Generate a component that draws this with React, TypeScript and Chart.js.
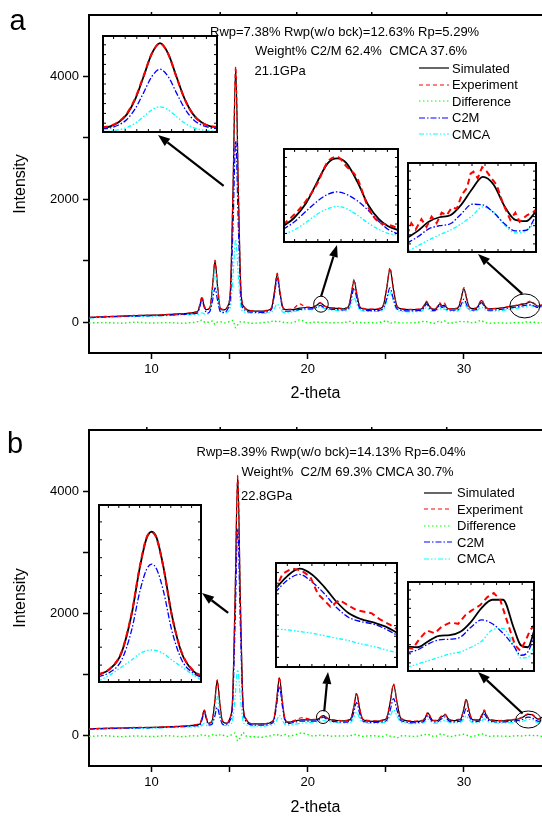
import React, { useEffect, useRef } from "react";
import { Chart, registerables } from "chart.js";
Chart.register(...registerables);

const FONT = "'Liberation Sans', Arial, Helvetica, sans-serif";
const BLACK = "#000000";
const RED = "#ff0000";
const GREEN = "#00ff00";
const BLUE = "#0000ff";
const CYAN = "#00ffff";

const LABELS = ["Simulated", "Experiment", "Difference", "C2M", "CMCA"];
const X_TICKS = [10, 15, 20, 25, 30];
const Y_TICKS = [0, 1000, 2000, 3000, 4000];

// ---------------- Panel a (21.1 GPa) ----------------
const X_A = [
  6, 7, 8, 9, 10, 11, 12, 12.5, 12.84, 12.97,
  13.1, 13.23, 13.36, 13.49, 13.6, 13.75, 13.91, 14.07, 14.23, 14.39,
  14.55, 14.7, 14.88, 15.05, 15.22, 15.39, 15.56, 15.73, 15.9, 16.4,
  17.0, 17.3, 17.51, 17.69, 17.87, 18.05, 18.23, 18.41, 18.59, 19.0,
  19.5, 19.9, 20.14, 20.36, 20.58, 20.8, 21.02, 21.24, 21.46, 22.0,
  22.3, 22.43, 22.61, 22.79, 22.97, 23.15, 23.33, 23.51, 24.0, 24.5,
  24.61, 24.83, 25.05, 25.27, 25.49, 25.71, 25.93, 26.5, 27.0, 27.16,
  27.31, 27.46, 27.61, 27.76, 27.91, 28.06, 28.2, 28.33, 28.46, 28.59,
  28.75, 28.9, 29.05, 29.46, 29.64, 29.82, 30.0, 30.18, 30.36, 30.58,
  30.79, 30.96, 31.13, 31.3, 31.47, 31.64, 32.2, 32.8, 33.3, 33.7,
  34.0, 34.25, 34.5, 34.75, 35.0,
];
const SIM_A = [
  80, 90, 100, 108, 115, 125, 140, 150, 165, 180,
  280, 400, 280, 205, 210, 237, 584, 1000, 584, 237,
  200, 205, 259, 510, 2165, 4150, 2165, 510, 259, 185,
  180, 183, 200, 237, 484, 780, 484, 240, 205, 205,
  230, 240, 240, 245, 277, 316, 277, 244, 234, 225,
  220, 226, 255, 448, 680, 448, 254, 224, 210, 210,
  223, 264, 535, 860, 535, 264, 223, 205, 208, 212,
  220, 270, 330, 270, 222, 214, 218, 258, 300, 262,
  280, 238, 218, 219, 240, 378, 544, 378, 240, 222,
  227, 285, 354, 285, 227, 218, 225, 250, 270, 290,
  305, 330, 300, 262, 280,
];
const EXP_A = [
  78, 95, 98, 112, 113, 128, 138, 155, 170, 190,
  295, 420, 290, 210, 218, 250, 600, 1010, 595, 250,
  210, 212, 265, 525, 2190, 4160, 2140, 500, 265, 190,
  178, 190, 210, 245, 500, 800, 495, 250, 212, 215,
  300, 245, 248, 250, 282, 322, 272, 250, 240, 230,
  228, 232, 262, 460, 700, 460, 262, 230, 215, 218,
  230, 275, 550, 890, 550, 270, 230, 210, 215, 218,
  228, 282, 345, 278, 230, 220, 225, 270, 320, 272,
  310, 245, 222, 225, 250, 392, 565, 392, 245, 228,
  235, 298, 370, 292, 232, 222, 228, 255, 275, 300,
  315, 345, 310, 268, 285,
];
const DIF_A = [
  -10, -5, -15, 0, -12, -5, -15, -5, 0, 10,
  15, 40, 10, -5, 0, 10, 20, -35, 5, 10,
  -5, -10, 0, 20, 30, -90, -25, 10, 5, -15,
  -10, 0, 5, 15, 25, 5, 15, 0, -5, -10,
  40, -5, -10, 0, 5, -5, -5, 0, -10, -5,
  -10, 0, 10, 15, -20, 5, 0, -10, -5, -10,
  0, 10, 25, -20, 5, 0, -10, -10, -5, 5,
  10, 15, 10, -10, -5, -20, 0, 10, 20, 0,
  25, -10, -15, 0, 5, 15, 10, 15, -10, -5,
  5, 20, 30, -5, -10, -15, -10, -15, -5, -10,
  5, 0, 0, -10, -5,
];
const C2M_A = [
  75, 85, 94, 100, 106, 115, 128, 135, 145, 159,
  255, 370, 255, 165, 150, 182, 354, 560, 354, 182,
  160, 160, 216, 392, 1555, 2950, 1555, 392, 216, 165,
  160, 163, 179, 214, 444, 720, 444, 214, 179, 185,
  210, 220, 219, 223, 246, 274, 246, 223, 215, 205,
  200, 204, 227, 378, 560, 378, 227, 204, 190, 190,
  197, 221, 375, 560, 375, 221, 197, 185, 188, 192,
  199, 245, 300, 245, 199, 193, 197, 235, 280, 240,
  255, 215, 196, 196, 207, 284, 376, 284, 207, 198,
  205, 258, 320, 258, 205, 198, 205, 228, 245, 262,
  280, 285, 265, 240, 262,
];
const CMCA_A = [
  70, 80, 88, 95, 100, 108, 120, 125, 126, 128,
  140, 155, 140, 128, 135, 191, 482, 830, 482, 191,
  150, 145, 169, 245, 748, 1350, 748, 245, 169, 150,
  145, 148, 156, 165, 227, 300, 227, 165, 156, 170,
  195, 205, 204, 207, 230, 256, 230, 207, 200, 190,
  185, 186, 200, 291, 400, 291, 200, 186, 175, 175,
  181, 201, 333, 490, 333, 201, 181, 170, 173, 176,
  180, 208, 240, 208, 180, 177, 180, 205, 230, 210,
  215, 192, 180, 180, 189, 247, 316, 247, 189, 182,
  186, 215, 250, 215, 186, 182, 185, 205, 225, 240,
  255, 275, 255, 235, 255,
];

// Inset a1: main peak near 15.4
const X_A1 = [15.04, 15.09, 15.14, 15.19, 15.24, 15.29, 15.34, 15.39, 15.44, 15.49, 15.54, 15.59, 15.64, 15.69, 15.74];
const SIM_A1 = [235, 310, 496, 862, 1557, 2586, 3656, 4150, 3656, 2586, 1557, 862, 496, 320, 270];
const EXP_A1 = [250, 330, 520, 900, 1600, 2620, 3660, 4140, 3640, 2570, 1540, 850, 490, 325, 275];
const C2M_A1 = [184, 240, 370, 627, 1118, 1845, 2600, 2950, 2600, 1845, 1118, 627, 368, 250, 200];
const CMCA_A1 = [60, 90, 146, 253, 455, 755, 1066, 1212, 1066, 755, 455, 253, 146, 99, 80];
// Inset a2: small peak near 20.8
const X_A2 = [20.45, 20.52, 20.6, 20.67, 20.74, 20.8, 20.86, 20.93, 21.0, 21.07, 21.13, 21.2];
const SIM_A2 = [231, 241, 260, 286, 310, 316, 310, 287, 258, 240, 231, 226];
const EXP_A2 = [233, 245, 263, 284, 312, 318, 306, 291, 255, 236, 233, 228];
const C2M_A2 = [227, 236, 250, 262, 271, 274, 271, 263, 251, 237, 227, 221];
const CMCA_A2 = [221, 226, 236, 246, 253, 256, 253, 245, 235, 227, 222, 220];
// Inset a3: broad feature near 34
const X_A3 = [33.2, 33.35, 33.5, 33.65, 33.8, 33.95, 34.1, 34.25, 34.4, 34.55, 34.7, 34.85, 35.0];
const SIM_A3 = [223, 234, 248, 255, 258, 274, 298, 317, 305, 272, 251, 249, 266];
const C2M_A3 = [215, 225, 237, 242, 245, 260, 275, 274, 262, 245, 234, 235, 260];
const CMCA_A3 = [202, 211, 220, 228, 235, 245, 257, 271, 263, 243, 231, 234, 251];
const XE_A3 = [33.2, 33.26, 33.32, 33.4, 33.47, 33.54, 33.61, 33.68, 33.75, 33.82, 33.89, 33.96, 34.03, 34.08, 34.12, 34.18, 34.24, 34.3, 34.37, 34.44, 34.53, 34.63, 34.7, 34.76, 34.86, 34.95, 35.0];
const EXP_A3 = [228, 246, 236, 252, 240, 256, 246, 262, 258, 270, 268, 290, 300, 322, 325, 315, 332, 326, 315, 305, 276, 251, 262, 248, 258, 263, 268];

// ---------------- Panel b (22.8 GPa) ----------------
const X_B = [
  6, 7, 8, 9, 10, 11, 12, 12.6, 12.99, 13.12,
  13.25, 13.38, 13.51, 13.64, 13.75, 13.89, 14.05, 14.21, 14.37, 14.53,
  14.69, 14.85, 15.01, 15.18, 15.35, 15.52, 15.69, 15.86, 16.03, 16.5,
  17.1, 17.4, 17.65, 17.83, 18.01, 18.19, 18.37, 18.55, 18.73, 19.2,
  19.6, 20.4, 20.6, 20.8, 21.0, 21.2, 21.4, 21.6, 22.1, 22.5,
  22.59, 22.77, 22.95, 23.13, 23.31, 23.49, 23.67, 24.2, 24.7, 24.84,
  25.06, 25.28, 25.5, 25.72, 25.94, 26.16, 26.7, 27.1, 27.25, 27.4,
  27.55, 27.7, 27.85, 28.0, 28.15, 28.35, 28.55, 28.68, 28.8, 28.95,
  29.1, 29.3, 29.64, 29.81, 29.98, 30.15, 30.32, 30.49, 30.66, 30.82,
  30.98, 31.14, 31.3, 31.46, 31.62, 31.78, 32.3, 32.9, 33.4, 33.75,
  34.1, 34.35, 34.6, 34.8, 35.0,
];
const SIM_B = [
  109, 115, 122, 128, 133, 140, 152, 165, 180, 195,
  294, 413, 294, 200, 205, 245, 544, 902, 544, 245,
  205, 200, 276, 532, 2227, 4258, 2227, 532, 276, 190,
  188, 195, 215, 262, 570, 941, 570, 262, 215, 240,
  255, 256, 261, 290, 326, 290, 261, 250, 240, 238,
  247, 275, 461, 685, 461, 275, 247, 232, 240, 252,
  289, 536, 832, 536, 289, 252, 228, 232, 238, 246,
  302, 370, 302, 246, 240, 250, 300, 318, 343, 290,
  252, 242, 252, 273, 416, 587, 416, 273, 255, 250,
  258, 320, 396, 320, 258, 250, 240, 250, 265, 295,
  345, 340, 290, 265, 300,
];
const EXP_B = [
  105, 118, 120, 132, 130, 145, 150, 170, 185, 205,
  305, 420, 300, 210, 212, 255, 560, 910, 555, 255,
  215, 210, 285, 545, 2250, 4240, 2200, 520, 285, 195,
  195, 200, 222, 270, 585, 955, 580, 270, 222, 250,
  290, 262, 268, 298, 330, 296, 270, 258, 245, 246,
  255, 285, 472, 700, 470, 285, 255, 240, 248, 260,
  298, 548, 845, 545, 298, 260, 235, 240, 245, 255,
  315, 385, 310, 252, 248, 262, 318, 330, 350, 296,
  260, 250, 262, 282, 430, 600, 428, 282, 262, 258,
  270, 340, 420, 335, 268, 256, 245, 256, 270, 300,
  355, 345, 300, 270, 290,
];
const DIF_B = [
  -15, -5, -20, -8, -18, -5, -20, -5, -10, 5,
  10, -5, 5, -10, -5, 10, 20, -10, 10, 10,
  -10, -15, -5, 20, 40, -90, -30, 50, -5, -20,
  -30, -10, -5, 10, 20, -10, 5, 15, -10, 10,
  40, -10, 0, 5, -5, 5, -15, -10, -10, -5,
  -15, 0, 10, 15, -5, -15, -10, -5, -15, -15,
  10, -10, -20, -40, -10, -5, -15, -10, 0, 10,
  15, 20, -5, -10, -20, 10, 25, 15, 5, -10,
  -20, -10, 5, 10, 20, 10, -15, -20, -10, 0,
  15, 25, 25, -10, -15, -10, -10, -15, -5, -10,
  5, -5, 5, -10, -15,
];
const C2M_B = [
  105, 110, 116, 122, 127, 134, 145, 156, 160, 174,
  268, 380, 268, 176, 172, 190, 311, 457, 311, 190,
  175, 175, 239, 442, 1782, 3388, 1782, 442, 239, 170,
  168, 175, 192, 232, 492, 804, 492, 232, 192, 220,
  235, 236, 240, 268, 300, 268, 240, 230, 220, 218,
  224, 245, 378, 538, 378, 245, 224, 212, 220, 228,
  252, 412, 604, 412, 252, 228, 208, 212, 217, 225,
  272, 330, 272, 225, 220, 228, 270, 285, 305, 262,
  230, 222, 229, 243, 332, 440, 332, 243, 232, 228,
  235, 288, 350, 288, 235, 228, 218, 228, 242, 262,
  300, 290, 250, 232, 270,
];
const CMCA_B = [
  100, 106, 112, 118, 122, 128, 138, 140, 141, 145,
  170, 200, 170, 150, 160, 191, 396, 641, 396, 191,
  162, 160, 178, 236, 619, 1077, 619, 236, 178, 155,
  153, 160, 168, 179, 248, 330, 248, 179, 168, 185,
  200, 220, 222, 233, 245, 233, 222, 215, 205, 203,
  207, 218, 292, 380, 292, 218, 207, 197, 205, 209,
  223, 313, 420, 313, 223, 209, 193, 197, 201, 205,
  233, 265, 233, 205, 202, 207, 228, 238, 250, 228,
  210, 205, 212, 219, 265, 320, 265, 219, 213, 212,
  215, 240, 270, 240, 215, 212, 203, 210, 218, 232,
  260, 262, 225, 205, 240,
];

// Inset b1: main peak near 15.5
const X_B1 = [15.2, 15.27, 15.34, 15.4, 15.45, 15.49, 15.52, 15.55, 15.59, 15.64, 15.7, 15.77, 15.82];
const SIM_B1 = [225, 390, 850, 1920, 3270, 4080, 4258, 4080, 3270, 1920, 830, 330, 185];
const EXP_B1 = [230, 400, 870, 1950, 3300, 4100, 4240, 4060, 3250, 1900, 850, 340, 200];
const C2M_B1 = [170, 300, 640, 1480, 2590, 3200, 3349, 3200, 2590, 1480, 640, 270, 155];
const CMCA_B1 = [55, 220, 450, 650, 830, 910, 929, 910, 830, 650, 450, 220, 70];
// Inset b2: small peak near 21.0
const X_B2 = [20.78, 20.86, 20.94, 21.02, 21.1, 21.18, 21.26, 21.34, 21.42, 21.5, 21.58];
const SIM_B2 = [295, 311, 320, 313, 298, 280, 266, 259, 255, 250, 242];
const C2M_B2 = [291, 306, 313, 304, 290, 273, 261, 256, 253, 247, 239];
const CMCA_B2 = [247, 246, 244, 242, 239, 236, 233, 229, 226, 222, 218];
const XE_B2 = [20.78, 20.83, 20.89, 20.95, 21.01, 21.06, 21.1, 21.14, 21.2, 21.26, 21.31, 21.36, 21.41, 21.46, 21.53, 21.58];
const EXP_B2 = [294, 314, 320, 318, 310, 289, 282, 274, 282, 275, 270, 268, 266, 259, 252, 246];
// Inset b3: broad feature near 34
const X_B3 = [33.2, 33.35, 33.5, 33.65, 33.8, 33.95, 34.1, 34.25, 34.4, 34.55, 34.7, 34.8, 34.9, 35.0];
const SIM_B3 = [238, 237, 246, 254, 255, 260, 275, 296, 308, 308, 266, 240, 237, 266];
const C2M_B3 = [229, 233, 242, 248, 249, 252, 267, 278, 272, 258, 239, 225, 230, 257];
const CMCA_B3 = [207, 212, 217, 222, 227, 230, 237, 246, 263, 265, 240, 221, 222, 240];
const XE_B3 = [33.2, 33.28, 33.38, 33.48, 33.59, 33.69, 33.81, 33.92, 34.02, 34.11, 34.23, 34.33, 34.42, 34.51, 34.58, 34.65, 34.72, 34.79, 34.86, 34.93, 35.0];
const EXP_B3 = [236, 235, 250, 262, 258, 268, 274, 272, 285, 292, 300, 312, 318, 308, 285, 262, 240, 232, 245, 262, 272];

// ---------------- styles ----------------
type Sty = { color: string; dash: number[]; width: number; order: number };
const ST: Record<string, Sty> = {
  sim: { color: BLACK, dash: [], width: 1.2, order: 3 },
  exp: { color: RED, dash: [4, 3], width: 1.2, order: 0 },
  dif: { color: GREEN, dash: [1.5, 2.5], width: 1.4, order: 4 },
  c2m: { color: BLUE, dash: [6, 2, 1.5, 2], width: 1.2, order: 1 },
  cmca: { color: CYAN, dash: [5, 2, 1.5, 2, 1.5, 2], width: 1.2, order: 2 },
};
const STI: Record<string, Sty> = {
  sim: { color: BLACK, dash: [], width: 1.8, order: 1 },
  exp: { color: RED, dash: [6, 4], width: 2, order: 0 },
  c2m: { color: BLUE, dash: [6, 2, 1.5, 2], width: 1.3, order: 2 },
  cmca: { color: CYAN, dash: [4, 2, 1.5, 2, 1.5, 2], width: 1.3, order: 3 },
};

function ds(label: string, xs: number[], ys: number[], s: Sty, smooth = true) {
  return {
    label,
    data: xs.map((x, i) => ({ x, y: ys[i] })),
    borderColor: s.color,
    borderWidth: s.width,
    borderDash: s.dash,
    pointRadius: 0,
    fill: false,
    order: s.order,
    cubicInterpolationMode: smooth ? "monotone" : "default",
    tension: 0,
  };
}

function drawArrow(ctx: CanvasRenderingContext2D, x0: number, y0: number, x1: number, y1: number) {
  const ang = Math.atan2(y1 - y0, x1 - x0);
  const L = 12;
  const W = 4.5;
  const bx = x1 - L * Math.cos(ang);
  const by = y1 - L * Math.sin(ang);
  ctx.lineWidth = 2.2;
  ctx.beginPath();
  ctx.moveTo(x0, y0);
  ctx.lineTo(bx, by);
  ctx.stroke();
  ctx.beginPath();
  ctx.moveTo(x1, y1);
  ctx.lineTo(bx + W * Math.sin(ang), by - W * Math.cos(ang));
  ctx.lineTo(bx - W * Math.sin(ang), by + W * Math.cos(ang));
  ctx.closePath();
  ctx.fill();
}

type Ell = { x: number; y: number; rx: number; ry: number };
type Arr = { fx: number; fy: number; tx: number; ty: number };

function MainPanel(p: {
  top: number; padTop: number; axisH: number; titlePad: number;
  X: number[]; sim: number[]; exp: number[]; dif: number[]; c2m: number[]; cmca: number[];
  topTicks: number[]; ells: Ell[]; arrows: Arr[];
}) {
  const ref = useRef<HTMLCanvasElement>(null);
  useEffect(() => {
    const decor = {
      id: "decor",
      afterDraw(chart: any) {
        const { ctx, chartArea: ca } = chart;
        const xs = chart.scales.x;
        const ys = chart.scales.y;
        ctx.save();
        ctx.strokeStyle = BLACK;
        ctx.fillStyle = BLACK;
        ctx.lineWidth = 2;
        ctx.beginPath();
        ctx.moveTo(ca.left - 1, ca.top);
        ctx.lineTo(ca.right, ca.top);
        ctx.stroke();
        ctx.lineWidth = 1.5;
        for (const t of p.topTicks) {
          const px = xs.getPixelForValue(t);
          ctx.beginPath();
          ctx.moveTo(px, ca.top);
          ctx.lineTo(px, ca.top - 3);
          ctx.stroke();
        }
        ctx.lineWidth = 1;
        for (const e of p.ells) {
          ctx.beginPath();
          ctx.ellipse(xs.getPixelForValue(e.x), ys.getPixelForValue(e.y), e.rx, e.ry, 0, 0, Math.PI * 2);
          ctx.stroke();
        }
        for (const a of p.arrows) {
          drawArrow(ctx, xs.getPixelForValue(a.fx), ys.getPixelForValue(a.fy), a.tx, a.ty);
        }
        ctx.restore();
      },
    };
    const tickFont = { family: FONT, size: 13 };
    const grid = {
      drawOnChartArea: false, drawTicks: true, tickLength: 6, tickWidth: 1.5,
      tickColor: BLACK, color: BLACK,
    };
    const chart = new Chart(ref.current as HTMLCanvasElement, {
      type: "line",
      data: {
        datasets: [
          ds(LABELS[0], p.X, p.sim, ST.sim),
          ds(LABELS[1], p.X, p.exp, ST.exp),
          ds(LABELS[2], p.X, p.dif, ST.dif),
          ds(LABELS[3], p.X, p.c2m, ST.c2m),
          ds(LABELS[4], p.X, p.cmca, ST.cmca),
        ] as any,
      },
      options: {
        responsive: false,
        animation: false,
        events: [],
        layout: { padding: { top: p.padTop, left: 0, right: 0, bottom: 0 } },
        plugins: { legend: { display: false }, tooltip: { enabled: false } },
        scales: {
          x: {
            type: "linear", min: 6, max: 35,
            afterBuildTicks: (s: any) => { s.ticks = X_TICKS.map((v) => ({ value: v })); },
            afterFit: (s: any) => { s.height = p.axisH; },
            ticks: {
              autoSkip: false, maxRotation: 0, padding: 3, color: BLACK, font: tickFont,
              callback: (v: any) => (Number(v) % 10 === 0 ? String(v) : ""),
            },
            grid,
            border: { display: true, color: BLACK, width: 2 },
            title: {
              display: true, text: "2-theta", color: BLACK,
              font: { family: FONT, size: 16, lineHeight: 1 },
              padding: { top: 0, bottom: p.titlePad },
            },
          },
          y: {
            type: "linear", min: -500, max: 5000,
            afterBuildTicks: (s: any) => { s.ticks = Y_TICKS.map((v) => ({ value: v })); },
            afterFit: (s: any) => { s.width = 89; },
            ticks: {
              autoSkip: false, padding: 4, color: BLACK, font: tickFont,
              callback: (v: any) => (Number(v) % 2000 === 0 ? String(v) : ""),
            },
            grid,
            border: { display: true, color: BLACK, width: 2 },
            title: {
              display: true, text: "Intensity", color: BLACK,
              font: { family: FONT, size: 16, lineHeight: 1 },
              padding: { top: 13, bottom: 0 },
            },
          },
        },
      } as any,
      plugins: [decor],
    });
    return () => chart.destroy();
  }, []);
  return (
    <canvas ref={ref} width={542} height={408}
      style={{ position: "absolute", left: 0, top: p.top, width: 542, height: 408 }} />
  );
}

function Inset(p: {
  left: number; top: number; w: number; h: number;
  xmin: number; xmax: number; ymin: number; ymax: number;
  X: number[]; sim: number[]; c2m: number[]; cmca: number[]; XE: number[]; exp: number[];
  smoothExp: boolean;
}) {
  const ref = useRef<HTMLCanvasElement>(null);
  useEffect(() => {
    const frame = {
      id: "frame",
      beforeDraw(chart: any) {
        const { ctx, width, height } = chart;
        ctx.save();
        ctx.fillStyle = "#ffffff";
        ctx.fillRect(0, 0, width, height);
        ctx.restore();
      },
      afterDraw(chart: any) {
        const { ctx, width, height } = chart;
        ctx.save();
        ctx.strokeStyle = BLACK;
        ctx.lineWidth = 2;
        ctx.strokeRect(1, 1, width - 2, height - 2);
        ctx.lineWidth = 1;
        const n = 10;
        for (let i = 1; i < n; i++) {
          const tx = (width * i) / n;
          const ty = (height * i) / n;
          ctx.beginPath();
          ctx.moveTo(tx, 1); ctx.lineTo(tx, 4);
          ctx.moveTo(tx, height - 1); ctx.lineTo(tx, height - 4);
          ctx.moveTo(1, ty); ctx.lineTo(4, ty);
          ctx.moveTo(width - 1, ty); ctx.lineTo(width - 4, ty);
          ctx.stroke();
        }
        ctx.restore();
      },
    };
    const chart = new Chart(ref.current as HTMLCanvasElement, {
      type: "line",
      data: {
        datasets: [
          ds(LABELS[0], p.X, p.sim, STI.sim),
          ds(LABELS[1], p.XE, p.exp, STI.exp, p.smoothExp),
          ds(LABELS[3], p.X, p.c2m, STI.c2m),
          ds(LABELS[4], p.X, p.cmca, STI.cmca),
        ] as any,
      },
      options: {
        responsive: false,
        animation: false,
        events: [],
        layout: { padding: 0 },
        plugins: { legend: { display: false }, tooltip: { enabled: false } },
        scales: {
          x: { type: "linear", display: false, min: p.xmin, max: p.xmax },
          y: { type: "linear", display: false, min: p.ymin, max: p.ymax },
        },
      } as any,
      plugins: [frame],
    });
    return () => chart.destroy();
  }, []);
  return (
    <canvas ref={ref} width={p.w} height={p.h}
      style={{ position: "absolute", left: p.left, top: p.top, width: p.w, height: p.h }} />
  );
}

const LEG_STYLES = [ST.sim, ST.exp, ST.dif, ST.c2m, ST.cmca];

function Txt(p: { x: number; cy: number; size: number; children: any }) {
  // cy = vertical centre of the capital letters
  const top = p.cy - (0.8465 - 0.358) * p.size;
  return (
    <div style={{
      position: "absolute", left: p.x, top, fontSize: p.size, lineHeight: 1,
      fontFamily: FONT, color: BLACK, whiteSpace: "pre",
    }}>{p.children}</div>
  );
}

function Legend(p: { x1: number; x2: number; tx: number; cy: number }) {
  return (
    <>
      {LABELS.map((lab, i) => {
        const cy = p.cy + i * 16.5;
        const s = LEG_STYLES[i];
        return (
          <React.Fragment key={lab}>
            <svg width={p.x2 - p.x1} height={6}
              style={{ position: "absolute", left: p.x1, top: cy - 3 }}>
              <line x1={0} y1={3} x2={p.x2 - p.x1} y2={3} stroke={s.color} strokeWidth={1.2}
                strokeDasharray={s.dash.length ? s.dash.join(" ") : undefined} />
            </svg>
            <Txt x={p.tx} cy={cy} size={13}>{lab}</Txt>
          </React.Fragment>
        );
      })}
    </>
  );
}

export default function App() {
  return (
    <div style={{
      position: "absolute", left: 0, top: 0, width: 542, height: 816,
      background: "#ffffff", overflow: "hidden", fontFamily: FONT,
    }}>
      <MainPanel top={0} padTop={15} axisH={55} titlePad={6}
        X={X_A} sim={SIM_A} exp={EXP_A} dif={DIF_A} c2m={C2M_A} cmca={CMCA_A}
        topTicks={[10, 14.4, 19.3, 24.1, 28.9]}
        ells={[{ x: 20.85, y: 294, rx: 7.3, ry: 8 }, { x: 33.9, y: 266, rx: 15, ry: 12 }]}
        arrows={[
          { fx: 14.62, fy: 2220, tx: 158, ty: 135 },
          { fx: 20.86, fy: 424, tx: 337, ty: 245 },
          { fx: 33.74, fy: 462, tx: 478, ty: 254 },
        ]} />
      <MainPanel top={408} padTop={22} axisH={50} titlePad={0}
        X={X_B} sim={SIM_B} exp={EXP_B} dif={DIF_B} c2m={C2M_B} cmca={CMCA_B}
        topTicks={[9.7, 14.4, 19.3, 24.1, 28.9]}
        ells={[{ x: 20.98, y: 302, rx: 6.5, ry: 6.5 }, { x: 34.12, y: 261, rx: 12.5, ry: 8.5 }]}
        arrows={[
          { fx: 14.91, fy: 2007, tx: 202, ty: 185 },
          { fx: 21.06, fy: 396, tx: 328, ty: 264 },
          { fx: 33.76, fy: 359, tx: 478, ty: 264 },
        ]} />

      <Inset left={102} top={35} w={116} h={98} xmin={15.04} xmax={15.74} ymin={0} ymax={4530}
        X={X_A1} sim={SIM_A1} c2m={C2M_A1} cmca={CMCA_A1} XE={X_A1} exp={EXP_A1} smoothExp={true} />
      <Inset left={283} top={148} w={116} h={95} xmin={20.45} xmax={21.2} ymin={210} ymax={329}
        X={X_A2} sim={SIM_A2} c2m={C2M_A2} cmca={CMCA_A2} XE={X_A2} exp={EXP_A2} smoothExp={true} />
      <Inset left={407} top={162} w={130} h={91} xmin={33.2} xmax={35.0} ymin={200} ymax={340}
        X={X_A3} sim={SIM_A3} c2m={C2M_A3} cmca={CMCA_A3} XE={XE_A3} exp={EXP_A3} smoothExp={false} />

      <Inset left={98} top={504} w={104} h={179} xmin={15.2} xmax={15.82} ymin={0} ymax={5040}
        X={X_B1} sim={SIM_B1} c2m={C2M_B1} cmca={CMCA_B1} XE={X_B1} exp={EXP_B1} smoothExp={true} />
      <Inset left={275} top={562} w={123} h={106} xmin={20.78} xmax={21.58} ymin={200} ymax={328}
        X={X_B2} sim={SIM_B2} c2m={C2M_B2} cmca={CMCA_B2} XE={XE_B2} exp={EXP_B2} smoothExp={false} />
      <Inset left={407} top={581} w={128} h={91} xmin={33.2} xmax={35.0} ymin={200} ymax={336}
        X={X_B3} sim={SIM_B3} c2m={C2M_B3} cmca={CMCA_B3} XE={XE_B3} exp={EXP_B3} smoothExp={false} />

      <Txt x={210} cy={31.7} size={13}>Rwp=7.38% Rwp(w/o bck)=12.63% Rp=5.29%</Txt>
      <Txt x={255} cy={50} size={13}>Weight% C2/M 62.4%  CMCA 37.6%</Txt>
      <Txt x={254.5} cy={70} size={13}>21.1GPa</Txt>
      <Legend x1={419} x2={449} tx={452} cy={68} />

      <Txt x={196.5} cy={451.7} size={13}>Rwp=8.39% Rwp(w/o bck)=14.13% Rp=6.04%</Txt>
      <Txt x={241.5} cy={471} size={13}>Weight%  C2/M 69.3% CMCA 30.7%</Txt>
      <Txt x={241} cy={495} size={13}>22.8GPa</Txt>
      <Legend x1={424} x2={452} tx={457} cy={492.7} />

      <div style={{ position: "absolute", left: 9.5, top: 6.3, fontSize: 29, lineHeight: 1, fontFamily: FONT, color: BLACK }}>a</div>
      <div style={{ position: "absolute", left: 7, top: 429, fontSize: 29, lineHeight: 1, fontFamily: FONT, color: BLACK }}>b</div>
    </div>
  );
}
